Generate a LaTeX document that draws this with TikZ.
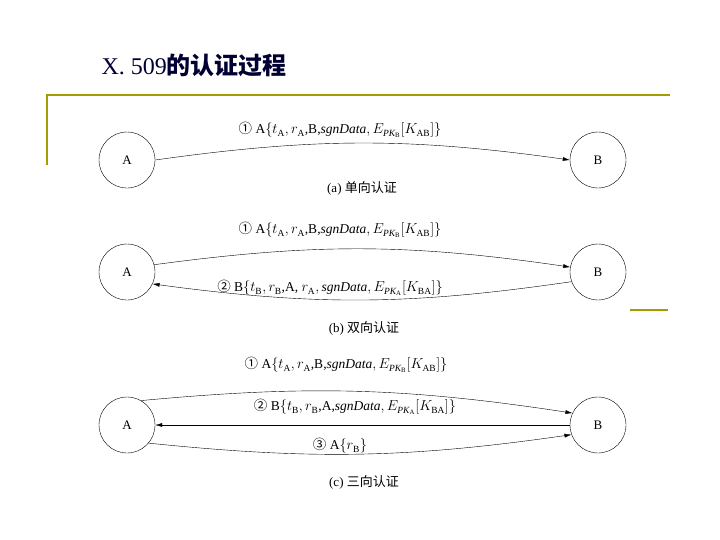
\documentclass[tikz,border=0pt]{standalone}
\usepackage{fontspec}
\setmainfont{Liberation Serif}
\newfontfamily\cjk{Noto Sans CJK SC}
\usetikzlibrary{arrows.meta}
\begin{document}
\begin{tikzpicture}[x=1pt,y=-1pt,
  party/.style={draw,circle,minimum size=56pt,inner sep=0pt,font=\fontsize{13}{13}\selectfont},
  msg/.style={font=\fontsize{13.5}{13}\selectfont},
  captxt/.style={font=\fontsize{13}{13}\selectfont},
  arr/.style={-{Latex[length=7pt,width=4pt]},thin},
  gold/.style={draw=olive!80!yellow,line width=1.5pt}]
\useasboundingbox (0,0) rectangle (720,539);
\node[anchor=west,font=\fontsize{24}{24}\selectfont,text=black!80!blue] (title) at (98,65) {X. 509{\cjk\bfseries 的认证过程}};
\draw[gold] (47,165) -- (47,95) -- (670,95);
\draw[gold] (630,310) -- (668,310);
% (a)
\node[party] (a1) at (127,160) {A};
\node[party] (b1) at (598,160) {B};
\draw[arr] (a1.east) to[bend left=8] (b1.west);
\node[msg] (m1) at (340,130) {{\cjk ①} A$\{t_{\mathrm A},r_{\mathrm A}$,B,$\mathit{sgnData},E_{\mathit{PK}_{\mathrm B}}[K_{\mathrm{AB}}]\}$};
\node[captxt] (ca) at (362,188) {(a) {\cjk 单向认证}};
% (b)
\node[party] (a2) at (127,272) {A};
\node[party] (b2) at (598,272) {B};
\draw[arr] (a2.15) to[bend left=8] (b2.170);
\draw[arr] (b2.200) to[bend left=8] (a2.-25);
\node[msg] (m2) at (340,230) {{\cjk ①} A$\{t_{\mathrm A},r_{\mathrm A}$,B,$\mathit{sgnData},E_{\mathit{PK}_{\mathrm B}}[K_{\mathrm{AB}}]\}$};
\node[msg] (m3) at (330,288) {{\cjk ②} B$\{t_{\mathrm B},r_{\mathrm B}$,A, $r_{\mathrm A},\mathit{sgnData},E_{\mathit{PK}_{\mathrm A}}[K_{\mathrm{BA}}]\}$};
\node[captxt] (cb) at (364,328) {(b) {\cjk 双向认证}};
% (c)
\node[party] (a3) at (127,425) {A};
\node[party] (b3) at (598,425) {B};
\draw[arr] (a3.60) to[bend left=7] (b3.155);
\draw[arr] (b3.west) -- (a3.east);
\draw[arr] (a3.-40) to[bend right=7] (b3.-160);
\node[msg] (m4) at (346,365) {{\cjk ①} A$\{t_{\mathrm A},r_{\mathrm A}$,B,$\mathit{sgnData},E_{\mathit{PK}_{\mathrm B}}[K_{\mathrm{AB}}]\}$};
\node[msg] (m5) at (355,407) {{\cjk ②} B$\{t_{\mathrm B},r_{\mathrm B}$,A,$\mathit{sgnData},E_{\mathit{PK}_{\mathrm A}}[K_{\mathrm{BA}}]\}$};
\node[msg] (m6) at (340,446) {{\cjk ③} A$\{r_{\mathrm B}\}$};
\node[captxt] (cc) at (364,482) {(c) {\cjk 三向认证}};
\end{tikzpicture}
\end{document}
